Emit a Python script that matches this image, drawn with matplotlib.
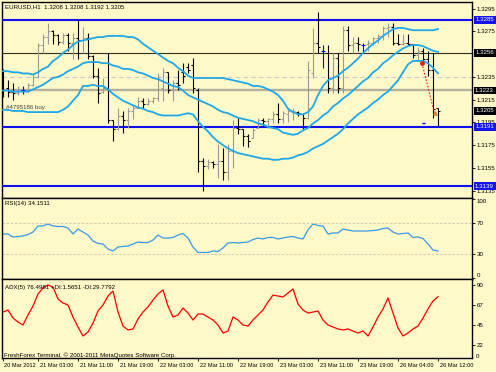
import matplotlib
matplotlib.use('Agg')
import matplotlib.pyplot as plt
from matplotlib import transforms
from matplotlib.patches import Rectangle
import numpy as np

# ---------------- data ----------------
time_labels = ["20 Mar 2012", "21 Mar 03:00", "21 Mar 11:00", "21 Mar 19:00",
               "22 Mar 03:00", "22 Mar 11:00", "22 Mar 19:00", "23 Mar 03:00",
               "23 Mar 11:00", "23 Mar 19:00", "26 Mar 04:00", "26 Mar 12:00"]
time_label_bars = [0, 7, 15, 23, 31, 39, 47, 55, 63, 71, 79, 87]

opens = [1.3234, 1.3225, 1.3222, 1.3221, 1.3223, 1.3223, 1.3228, 1.3235, 1.3263, 1.3270,
         1.3275, 1.3272, 1.3266, 1.3272, 1.3265, 1.3269, 1.3267, 1.3269, 1.3253, 1.3236,
         1.3222, 1.3225, 1.3197, 1.3189, 1.3201, 1.3197, 1.3205, 1.3208, 1.3214, 1.3211,
         1.3214, 1.3216, 1.3225, 1.3239, 1.3223, 1.3230, 1.3239, 1.3244, 1.3245, 1.3223,
         1.3161, 1.3157, 1.3160, 1.3158, 1.3161, 1.3151, 1.3170, 1.3190, 1.3189, 1.3183,
         1.3181, 1.3190, 1.3197, 1.3196, 1.3198, 1.3202, 1.3198, 1.3202, 1.3204, 1.3204,
         1.3202, 1.3199, 1.3238, 1.3265, 1.3258, 1.3256, 1.3225, 1.3252, 1.3225, 1.3276,
         1.3263, 1.3265, 1.3263, 1.3264, 1.3265, 1.3269, 1.3271, 1.3278, 1.3279, 1.3265,
         1.3264, 1.3265, 1.3264, 1.3254, 1.3258, 1.3251, 1.3241, 1.3208]
highs = [1.3242, 1.3232, 1.3230, 1.3227, 1.3227, 1.3230, 1.3237, 1.3265, 1.3273, 1.3282,
         1.3276, 1.3273, 1.3274, 1.3274, 1.3274, 1.3285, 1.3279, 1.3274, 1.3254, 1.3243,
         1.3234, 1.3256, 1.3197, 1.3208, 1.3205, 1.3208, 1.3210, 1.3217, 1.3216, 1.3216,
         1.3217, 1.3238, 1.3243, 1.3239, 1.3232, 1.3241, 1.3247, 1.3247, 1.3252, 1.3225,
         1.3164, 1.3163, 1.3161, 1.3176, 1.3172, 1.3176, 1.3197, 1.3199, 1.3189, 1.3185,
         1.3190, 1.3199, 1.3199, 1.3199, 1.3205, 1.3212, 1.3205, 1.3208, 1.3208, 1.3205,
         1.3203, 1.3249, 1.3278, 1.3292, 1.3263, 1.3263, 1.3256, 1.3256, 1.3280, 1.3280,
         1.3270, 1.3270, 1.3265, 1.3267, 1.3270, 1.3273, 1.3280, 1.3282, 1.3282, 1.3273,
         1.3273, 1.3273, 1.3264, 1.3261, 1.3260, 1.3258, 1.3256, 1.3208]
lows = [1.3217, 1.3217, 1.3215, 1.3219, 1.3220, 1.3222, 1.3227, 1.3234, 1.3256, 1.3264,
        1.3264, 1.3263, 1.3264, 1.3258, 1.3251, 1.3251, 1.3256, 1.3251, 1.3234, 1.3212,
        1.3221, 1.3194, 1.3179, 1.3188, 1.3186, 1.3190, 1.3198, 1.3208, 1.3208, 1.3210,
        1.3212, 1.3214, 1.3214, 1.3221, 1.3214, 1.3223, 1.3230, 1.3238, 1.3221, 1.3151,
        1.3135, 1.3154, 1.3155, 1.3146, 1.3144, 1.3144, 1.3155, 1.3185, 1.3174, 1.3173,
        1.3181, 1.3190, 1.3192, 1.3190, 1.3194, 1.3194, 1.3194, 1.3195, 1.3197, 1.3201,
        1.3189, 1.3198, 1.3234, 1.3256, 1.3243, 1.3221, 1.3221, 1.3221, 1.3221, 1.3258,
        1.3256, 1.3258, 1.3256, 1.3258, 1.3263, 1.3265, 1.3267, 1.3270, 1.3263, 1.3263,
        1.3263, 1.3263, 1.3252, 1.3249, 1.3247, 1.3236, 1.3199, 1.3192]
closes = [1.3223, 1.3222, 1.3221, 1.3224, 1.3223, 1.3228, 1.3235, 1.3263, 1.3270, 1.3275,
          1.3272, 1.3266, 1.3272, 1.3265, 1.3269, 1.3267, 1.3269, 1.3253, 1.3236, 1.3221,
          1.3225, 1.3197, 1.3189, 1.3201, 1.3197, 1.3205, 1.3208, 1.3214, 1.3211, 1.3214,
          1.3216, 1.3235, 1.3239, 1.3223, 1.3230, 1.3228, 1.3236, 1.3241, 1.3225, 1.3161,
          1.3157, 1.3160, 1.3158, 1.3161, 1.3151, 1.3170, 1.3190, 1.3189, 1.3183, 1.3179,
          1.3188, 1.3197, 1.3196, 1.3198, 1.3202, 1.3198, 1.3203, 1.3205, 1.3205, 1.3203,
          1.3199, 1.3241, 1.3265, 1.3261, 1.3258, 1.3225, 1.3252, 1.3225, 1.3276, 1.3263,
          1.3265, 1.3264, 1.3263, 1.3265, 1.3269, 1.3271, 1.3278, 1.3279, 1.3265, 1.3264,
          1.3265, 1.3264, 1.3254, 1.3258, 1.3251, 1.3241, 1.3207, 1.3205]

bb_upper = [1.3240, 1.3240, 1.3239, 1.3239, 1.3238, 1.3238, 1.3237, 1.3239, 1.3242, 1.3244,
            1.3249, 1.3252, 1.3256, 1.3259, 1.3263, 1.3266, 1.3267, 1.3268, 1.3269, 1.3270,
            1.3270, 1.3271, 1.3271, 1.3271, 1.3271, 1.3270, 1.3270, 1.3268, 1.3264, 1.3261,
            1.3258, 1.3255, 1.3252, 1.3249, 1.3247, 1.3243, 1.3240, 1.3236, 1.3234, 1.3234,
            1.3234, 1.3234, 1.3234, 1.3234, 1.3234, 1.3233, 1.3232, 1.3231, 1.3230, 1.3229,
            1.3227, 1.3227, 1.3226, 1.3224, 1.3222, 1.3219, 1.3214, 1.3207, 1.3204, 1.3202,
            1.3202, 1.3204, 1.3209, 1.3219, 1.3227, 1.3232, 1.3234, 1.3236, 1.3240, 1.3243,
            1.3247, 1.3251, 1.3256, 1.3260, 1.3264, 1.3267, 1.3271, 1.3274, 1.3277, 1.3278,
            1.3278, 1.3277, 1.3276, 1.3276, 1.3276, 1.3276, 1.3276, 1.3277]
bb_middle = [1.3223, 1.3223, 1.3222, 1.3222, 1.3222, 1.3222, 1.3224, 1.3226, 1.3228, 1.3231,
             1.3234, 1.3235, 1.3237, 1.3240, 1.3242, 1.3244, 1.3247, 1.3248, 1.3248, 1.3248,
             1.3247, 1.3247, 1.3245, 1.3244, 1.3242, 1.3242, 1.3241, 1.3239, 1.3238, 1.3236,
             1.3234, 1.3233, 1.3231, 1.3229, 1.3227, 1.3226, 1.3223, 1.3219, 1.3217, 1.3215,
             1.3213, 1.3211, 1.3209, 1.3206, 1.3204, 1.3203, 1.3201, 1.3199, 1.3198, 1.3197,
             1.3196, 1.3194, 1.3193, 1.3191, 1.3190, 1.3189, 1.3186, 1.3185, 1.3184, 1.3185,
             1.3188, 1.3190, 1.3194, 1.3197, 1.3201, 1.3204, 1.3209, 1.3212, 1.3216, 1.3219,
             1.3223, 1.3227, 1.3231, 1.3234, 1.3239, 1.3242, 1.3247, 1.3250, 1.3254, 1.3257,
             1.3260, 1.3262, 1.3263, 1.3263, 1.3262, 1.3260, 1.3258, 1.3257]
bb_lower = [1.3206, 1.3206, 1.3205, 1.3205, 1.3205, 1.3204, 1.3204, 1.3204, 1.3204, 1.3204,
            1.3204, 1.3204, 1.3206, 1.3209, 1.3214, 1.3219, 1.3227, 1.3227, 1.3228, 1.3227,
            1.3227, 1.3224, 1.3220, 1.3217, 1.3214, 1.3212, 1.3210, 1.3208, 1.3207, 1.3205,
            1.3204, 1.3202, 1.3201, 1.3201, 1.3201, 1.3201, 1.3202, 1.3203, 1.3202, 1.3196,
            1.3191, 1.3187, 1.3182, 1.3178, 1.3175, 1.3172, 1.3170, 1.3168, 1.3167, 1.3166,
            1.3165, 1.3164, 1.3163, 1.3163, 1.3162, 1.3162, 1.3163, 1.3163, 1.3164, 1.3166,
            1.3167, 1.3169, 1.3172, 1.3174, 1.3176, 1.3179, 1.3182, 1.3185, 1.3189, 1.3194,
            1.3198, 1.3202, 1.3205, 1.3208, 1.3212, 1.3215, 1.3219, 1.3222, 1.3227, 1.3232,
            1.3239, 1.3246, 1.3249, 1.3249, 1.3249, 1.3247, 1.3243, 1.3238]

rsi = [55.7, 55.7, 51.9, 52.5, 53.2, 55.0, 58.2, 65.8, 65.8, 68.4,
       65.8, 65.2, 65.2, 63.3, 55.7, 62.0, 58.2, 54.4, 46.8, 43.7,
       43.0, 36.7, 34.2, 39.2, 39.9, 40.5, 43.0, 45.6, 44.9, 44.9,
       48.1, 54.4, 50.6, 50.6, 51.3, 54.4, 56.3, 50.6, 39.2, 32.3,
       32.3, 32.3, 34.2, 33.5, 38.0, 44.3, 44.9, 44.3, 44.9, 45.6,
       48.7, 50.6, 49.4, 51.3, 51.3, 49.4, 50.6, 51.9, 52.5, 50.6,
       49.4, 60.8, 68.4, 66.5, 65.8, 55.7, 57.0, 57.0, 62.0, 60.8,
       59.5, 59.5, 59.5, 59.5, 60.1, 60.8, 62.7, 63.3, 58.2, 55.7,
       56.3, 57.0, 51.3, 51.9, 50.0, 43.0, 35.4, 34.1511]
adx = [59.3, 61.6, 52.6, 48.1, 44.8, 56.0, 66.1, 79.6, 86.3, 89.7,
       87.4, 74.0, 69.5, 67.2, 53.7, 42.5, 32.4, 36.9, 47.0, 60.5,
       67.2, 77.3, 82.9, 59.3, 43.6, 39.2, 40.3, 51.5, 59.3, 65.0,
       72.8, 79.6, 84.1, 66.1, 53.7, 56.0, 63.8, 58.2, 50.4, 57.1,
       57.1, 53.7, 50.4, 44.8, 35.8, 38.0, 53.7, 50.4, 44.8, 43.6,
       50.4, 56.0, 61.6, 70.6, 78.4, 77.3, 76.2, 80.7, 85.2, 68.3,
       61.6, 58.2, 59.3, 60.5, 50.4, 44.8, 42.5, 40.3, 39.2, 40.3,
       38.0, 35.8, 38.0, 32.4, 42.5, 53.7, 62.7, 75.1, 58.2, 41.4,
       32.4, 35.8, 40.3, 43.6, 52.6, 62.7, 71.7, 76.4981]
plus_di_last = 1.5651
minus_di_last = 29.7792

price_ticks = [1.3295, 1.3275, 1.3235, 1.3215, 1.3195, 1.3175, 1.3155, 1.3135]
blue_levels = [1.3285, 1.3191, 1.3139]
black_levels = [1.3256]
gray_levels = [1.3223]
dash_levels = [1.3235]
current_price = 1.3205
trade_x = [83.8, 86.3]
trade_y = [1.3247, 1.3203]
pending_x = [84.1]
pending_y = [1.3194]

# ---------------- style ----------------
W, H = 496, 372
BG = '#FFF8C8'
UPC, DNC, DJC = '#9A9A9A', '#000000', '#0000FF'
BANDC = '#1EA8EA'
FS = 4.4
plt.rcParams['font.family'] = ['Liberation Sans', 'DejaVu Sans']

fig = plt.figure(figsize=(W / 100, H / 100), dpi=100)
fig.patch.set_facecolor(BG)


def rect(x0, y0, x1, y1):
    return [x0 / W, 1 - y1 / H, (x1 - x0) / W, (y1 - y0) / H]


ax = fig.add_axes(rect(2, 2, 472, 198))
ax_rsi = fig.add_axes(rect(2, 198, 472, 279))
ax_adx = fig.add_axes(rect(2, 279, 472, 358))

XMIN, XMAX = -0.2, 93.8
for a in (ax, ax_rsi, ax_adx):
    a.set_facecolor(BG)
    a.set_xlim(XMIN, XMAX)
    for s in a.spines.values():
        s.set_linewidth(1.0)
        s.set_color('black')
    a.yaxis.tick_right()
    a.tick_params(axis='y', length=2, width=0.6, pad=1.5, labelsize=FS, colors='black')
    a.tick_params(axis='x', length=0, labelbottom=False)

# ---------------- main price panel ----------------
YTOP, YBOT = 1.330083, 1.312845
ax.set_ylim(YBOT, YTOP)
x = np.arange(len(opens))
o, h, l, c = (np.array(v) for v in (opens, highs, lows, closes))
for mask, col in ((c > o, UPC), (c < o, DNC), (c == o, DJC)):
    ax.vlines(x[mask], l[mask], h[mask], color=col, lw=0.8, zorder=4)
    ax.hlines(o[mask], x[mask] - 0.42, x[mask], color=col, lw=0.8, zorder=4)
    ax.hlines(c[mask], x[mask], x[mask] + 0.42, color=col, lw=0.8, zorder=4)

for band in (bb_upper, bb_middle, bb_lower):
    ax.plot(x, band, color=BANDC, lw=1.3, zorder=5)

for p in blue_levels:
    ax.axhline(p, color='#1010F0', lw=1.5, zorder=3)
for p in black_levels:
    ax.axhline(p, color='#303020', lw=0.8, zorder=3)
for p in gray_levels:
    ax.axhline(p, color='#B4B09C', lw=1.7, zorder=2)
for p in dash_levels:
    ax.axhline(p, color='#C8CCD0', lw=0.8, ls=(0, (4, 3)), zorder=2)

ax.plot(trade_x, trade_y, color='#E02020', lw=0.8, ls=(0, (1.5, 1.5)), zorder=6)
ax.plot(trade_x[:1], trade_y[:1], marker='o', ms=2.5, color='#E02020', zorder=7)
ax.plot(trade_x[1:], trade_y[1:], marker='^', ms=2.5, color='#D09030', zorder=7)
ax.hlines(pending_y, np.array(pending_x) - 0.3, np.array(pending_x) + 0.3,
          color='#0000FF', lw=1.0, zorder=6)

ax.set_yticks(price_ticks)
ax.set_yticklabels([f'{p:.4f}' for p in price_ticks])

trans = transforms.blended_transform_factory(fig.transFigure, ax.transData)
px_per_unit = 196 / (YTOP - YBOT)
bh = 7.5 / px_per_unit
boxes = [(p, '#1414F0') for p in blue_levels] + \
        [(p, '#000000') for p in black_levels + gray_levels + [current_price]]
for p, col in boxes:
    ax.add_patch(Rectangle((473.5 / W, p - bh / 2), 22 / W, bh, transform=trans,
                           facecolor=col, edgecolor='none', clip_on=False, zorder=20))
    ax.text(484.5 / W, p, f'{p:.4f}', transform=trans, ha='center', va='center',
            color='white', fontsize=FS, zorder=21, clip_on=False)


def ftext(xp, yp, s, **kw):
    fig.text(xp / W, 1 - yp / H, s, va='center', ha='left', fontsize=FS, **kw)


ftext(5, 7, f'EURUSD,H1  {opens[-1]:.4f} {highs[-1]:.4f} {lows[-1]:.4f} {closes[-1]:.4f}',
      color='black')
ftext(6, 107, '#4795186 buy', color='#404040')

# ---------------- RSI panel ----------------
ax_rsi.set_ylim(-1.27, 101.27)
ax_rsi.plot(x, rsi, color='#3A9AE8', lw=0.9)
for lvl in (70, 30):
    ax_rsi.axhline(lvl, color='#C8C4B0', lw=0.6, ls=(0, (3, 2)))
ax_rsi.set_yticks([100, 70, 30, 0])
ax_rsi.set_yticklabels(['100', '70', '30', '0'])
lbls = ax_rsi.get_yticklabels()
lbls[0].set_va('top')
lbls[-1].set_va('bottom')
ftext(5, 204, f'RSI(14) {rsi[-1]:.4f}', color='black')

# ---------------- ADX panel ----------------
ax_adx.set_ylim(7.73, 96.4)
ax_adx.plot(x, adx, color='#FF0000', lw=0.9)
ax_adx.set_yticks([90, 67, 45, 22])
ax_adx.set_yticklabels(['90', '67', '45', '22'])
fig.text(476 / W, 1 - 356 / H, '0', va='center', ha='left', fontsize=FS)
ftext(5, 287, f'ADX(5) {adx[-1]:.4f} +DI:{plus_di_last:.4f} -DI:{minus_di_last:.4f}',
      color='black')
ftext(4, 355, 'FreshForex Terminal, \u00a9 2001-2011 MetaQuotes Software Corp.', color='black')

ax_adx.set_xticks(time_label_bars)
ax_adx.set_xticklabels(time_labels)
ax_adx.tick_params(axis='x', length=2, width=0.6, pad=1.5, labelsize=4.1,
                   labelbottom=True, direction='out')
offset = transforms.ScaledTranslation(1.5 / 100, 0, fig.dpi_scale_trans)
for t in ax_adx.get_xticklabels():
    t.set_ha('left')
    t.set_transform(t.get_transform() + offset)

fig.savefig('out.png', dpi=100, facecolor=BG)
